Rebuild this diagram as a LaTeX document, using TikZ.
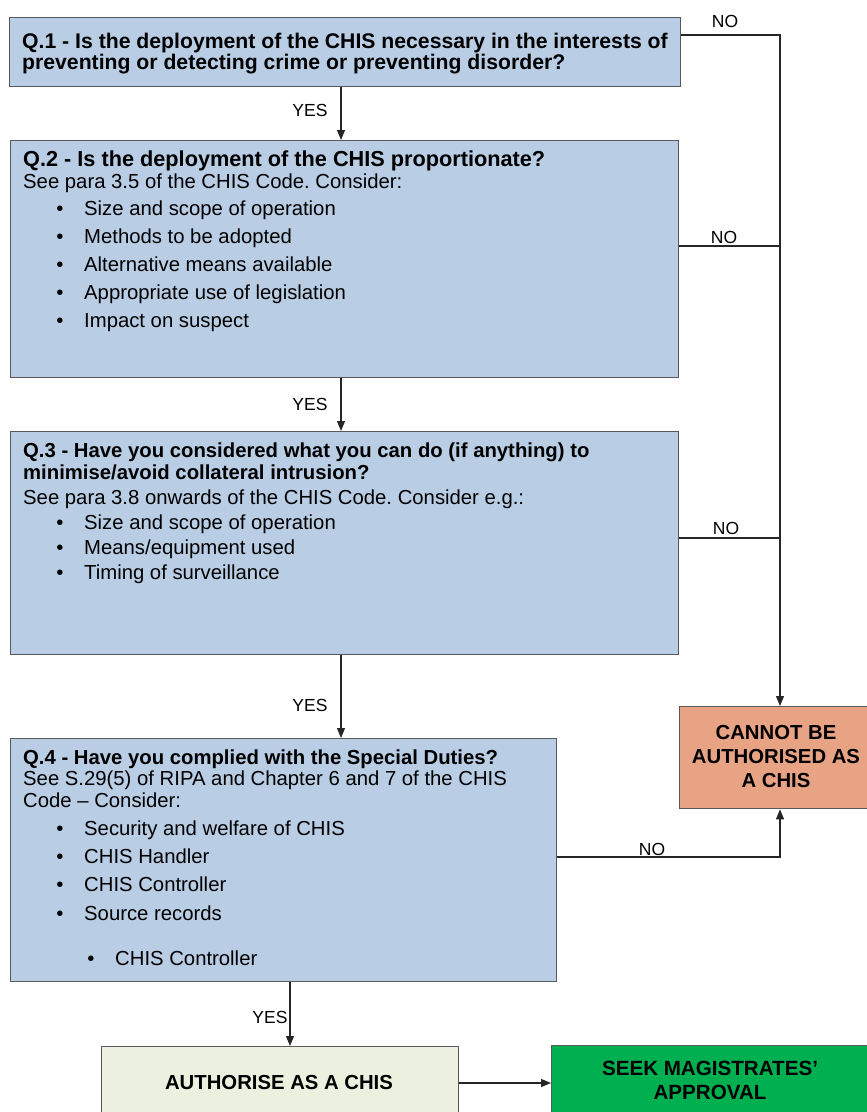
\documentclass[tikz,border=0pt]{standalone}
\usepackage{fontspec}
\setmainfont{Liberation Sans}
\usetikzlibrary{arrows.meta}
\definecolor{qblue}{HTML}{B9CDE5}
\definecolor{qedge}{HTML}{595959}
\definecolor{nobox}{HTML}{E8A385}
\definecolor{authbox}{HTML}{EBF1DE}
\definecolor{seekbox}{HTML}{00B050}
\begin{document}
\frenchspacing
\begin{tikzpicture}[x=1pt,y=-1pt,
 box/.style={draw=qedge, line width=1.3pt, anchor=north west, inner sep=0pt},
 qbox/.style={box, fill=qblue},
 txt/.style={anchor=base west, inner sep=0pt, font=\fontsize{20.3}{24}\selectfont},
 ttl/.style={anchor=base west, inner sep=0pt, font=\fontsize{20.3}{24}\selectfont\bfseries},
 bul/.style={anchor=base, inner sep=0pt, font=\fontsize{20.3}{24}\selectfont},
 big/.style={inner sep=0pt, align=center, font=\fontsize{20.3}{24}\selectfont\bfseries},
 lbl/.style={inner sep=0pt, font=\fontsize{17.5}{20}\selectfont},
 conn/.style={draw=black!85, line width=1.1pt},
 arr/.style={conn, -{Triangle[length=10pt,width=8pt]}},
]
\useasboundingbox (0,0) rectangle (867,1112);
\fill[white] (0,0) rectangle (867,1112);

% boxes
\node[qbox, minimum width=671pt, minimum height=69pt] (q1) at (9,17) {};
\node[qbox, minimum width=668pt, minimum height=237pt] (q2) at (10,140) {};
\node[qbox, minimum width=668pt, minimum height=223pt] (q3) at (10,431) {};
\node[qbox, minimum width=546pt, minimum height=243pt] (q4) at (10,738) {};
\node[box, fill=nobox, minimum width=200pt, minimum height=102pt] (cannot) at (679,706) {};
\node[box, fill=authbox, minimum width=357pt, minimum height=90pt] (auth) at (101,1046) {};
\node[box, fill=seekbox, minimum width=318pt, minimum height=90pt] (seek) at (551,1045) {};

% Q1
\node[ttl, font=\fontsize{21.2}{24}\selectfont\bfseries] (q1a) at (22,48) {Q.1 - Is the deployment of the CHIS necessary in the interests of};
\node[ttl, font=\fontsize{21.2}{24}\selectfont\bfseries] (q1b) at (22,69) {preventing or detecting crime or preventing disorder?};

% Q2
\node[ttl, font=\fontsize{21.7}{24}\selectfont\bfseries] (q2a) at (23,166) {Q.2 - Is the deployment of the CHIS proportionate?};
\node[txt] (q2b) at (23,188) {See para 3.5 of the CHIS Code. Consider:};
\foreach \y/\t [count=\i] in {215/{Size and scope of operation}, 243/{Methods to be adopted}, 271/{Alternative means available}, 299/{Appropriate use of legislation}, 327/{Impact on suspect}}{
  \node[bul] (q2d\i) at (60,\y) {•};
  \node[txt] (q2t\i) at (84,\y) {\t};
}

% Q3
\node[ttl] (q3a) at (23,457) {Q.3 - Have you considered what you can do (if anything) to};
\node[ttl] (q3b) at (23,479) {minimise/avoid collateral intrusion?};
\node[txt] (q3c) at (23,504) {See para 3.8 onwards of the CHIS Code. Consider e.g.:};
\foreach \y/\t [count=\i] in {529/{Size and scope of operation}, 554/{Means/equipment used}, 579/{Timing of surveillance}}{
  \node[bul] (q3d\i) at (60,\y) {•};
  \node[txt] (q3t\i) at (84,\y) {\t};
}

% Q4
\node[ttl] (q4a) at (23,764) {Q.4 - Have you complied with the Special Duties?};
\node[txt] (q4b) at (23,785) {See S.29(5) of RIPA and Chapter 6 and 7 of the CHIS};
\node[txt] (q4c) at (23,807) {Code – Consider:};
\foreach \y/\t [count=\i] in {835/{Security and welfare of CHIS}, 863/{CHIS Handler}, 891/{CHIS Controller}, 920/{Source records}}{
  \node[bul] (q4d\i) at (60,\y) {•};
  \node[txt] (q4t\i) at (84,\y) {\t};
}
\node[bul] (q4d5) at (91,965) {•};
\node[txt] (q4t5) at (115,965) {CHIS Controller};

% outcome texts
\node[big] (cannott) at (776,757) {CANNOT BE\\AUTHORISED AS\\A CHIS};
\node[big] (autht) at (279,1082) {AUTHORISE AS A CHIS};
\node[big, font=\fontsize{20.6}{24}\selectfont\bfseries] (seekt) at (710,1080) {SEEK MAGISTRATES’\\APPROVAL};

% connectors
\coordinate (yx) at (341,0);
\coordinate (ax) at (290,0);
\coordinate (rx) at (780,0);
\coordinate (ay) at (0,1083);
\coordinate (n1) at (0,35);
\coordinate (n2) at (0,246);
\coordinate (n3) at (0,538);
\coordinate (n4) at (0,857);

\draw[arr] (q1.south -| yx) -- (q2.north -| yx);
\draw[arr] (q2.south -| yx) -- (q3.north -| yx);
\draw[arr] (q3.south -| yx) -- (q4.north -| yx);
\draw[arr] (q4.south -| ax) -- (auth.north -| ax);
\draw[arr] (auth.east |- ay) -- (seek.west |- ay);

\draw[arr] (q1.east |- n1) -- (rx |- n1) -- (cannot.north -| rx);
\draw[conn] (q2.east |- n2) -- (rx |- n2);
\draw[conn] (q3.east |- n3) -- (rx |- n3);
\draw[arr] (q4.east |- n4) -- (rx |- n4) -- (cannot.south -| rx);

% labels
\node[lbl] (no1) at (725,21) {NO};
\node[lbl] (no2) at (724,237) {NO};
\node[lbl] (no3) at (726,528) {NO};
\node[lbl] (no4) at (652,849) {NO};
\node[lbl] (yes1) at (310,110) {YES};
\node[lbl] (yes2) at (310,404) {YES};
\node[lbl] (yes3) at (310,705) {YES};
\node[lbl] (yes4) at (270,1017) {YES};
\end{tikzpicture}
\end{document}
